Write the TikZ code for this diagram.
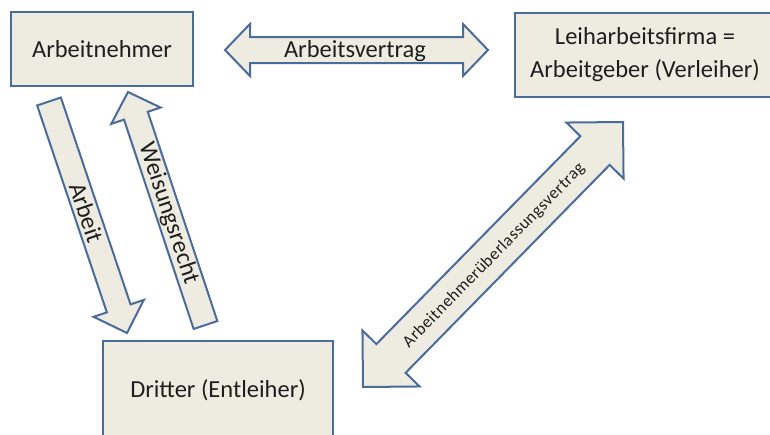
\documentclass[tikz,border=0pt]{standalone}
\usepackage{fontspec}
\setmainfont{Carlito}
\usetikzlibrary{calc}
\definecolor{boxfill}{HTML}{EEECE1}
\definecolor{boxline}{HTML}{4A6C9B}
\definecolor{txt}{HTML}{1E1E1E}
\tikzset{
  box/.style={draw=boxline, fill=boxfill, line width=2pt, inner sep=0pt, text=txt,
    font=\fontsize{24.5}{33}\selectfont, align=center},
  arrowshape/.style={draw=boxline, fill=boxfill, line width=2pt},
  arrowlabel/.style={text=txt, inner sep=0pt, font=\fontsize{24.5}{30}\selectfont},
  smalllabel/.style={text=txt, inner sep=0pt, font=\fontsize{17}{20}\selectfont\addfontfeature{LetterSpace=3}}
}
% single block arrow: name, tail, tip, shaft half width, head length, head half width
\newcommand{\blockarrow}[6]{%
  \coordinate (#1-h) at ($(#3)!#5!(#2)$);
  \draw[arrowshape] ($(#2)!#4!90:(#3)$) -- ($(#1-h)!#4!90:(#3)$) -- ($(#1-h)!#6!90:(#3)$)
    -- (#3) -- ($(#1-h)!#6!-90:(#3)$) -- ($(#1-h)!#4!-90:(#3)$) -- ($(#2)!#4!-90:(#3)$) -- cycle;}
% double block arrow: name, tip a, tip b, shaft half width, head length, head half width
\newcommand{\dblockarrow}[6]{%
  \coordinate (#1-ha) at ($(#2)!#5!(#3)$);
  \coordinate (#1-hb) at ($(#3)!#5!(#2)$);
  \draw[arrowshape] (#2) -- ($(#1-ha)!#6!90:(#3)$) -- ($(#1-ha)!#4!90:(#3)$)
    -- ($(#1-hb)!#4!-90:(#2)$) -- ($(#1-hb)!#6!-90:(#2)$) -- (#3)
    -- ($(#1-hb)!#6!90:(#2)$) -- ($(#1-hb)!#4!90:(#2)$)
    -- ($(#1-ha)!#4!-90:(#3)$) -- ($(#1-ha)!#6!-90:(#3)$) -- cycle;}
\begin{document}
\begin{tikzpicture}[x=1pt, y=-1pt]
  \useasboundingbox (0,0) rectangle (770,434);
  \clip (0,0) rectangle (770,434);
  \fill[white] (0,0) rectangle (770,434);

  % boxes
  \node[box, minimum width=182pt, minimum height=74pt] (an) at (102,49) {Arbeitnehmer};
  \node[box, minimum width=260pt, minimum height=84pt] (lf) at (645,55)
    {Leiharbeitsfirma =\\Arbeitgeber (Verleiher)};
  \node[box, minimum width=230pt, minimum height=99pt] (dr) at (218,390.5) {Dritter (Entleiher)};

  % Arbeitsvertrag (double arrow)
  \coordinate (av-a) at (225,50);
  \coordinate (av-b) at (488,50);
  \dblockarrow{av}{av-a}{av-b}{13pt}{25pt}{26pt}
  \node[arrowlabel] (avl) at ($(av-a)!0.5!(av-b)+(-1.5,1)$) {Arbeitsvertrag};

  % Arbeit (down)
  \coordinate (ar-t) at (49,101.5);
  \coordinate (ar-p) at (127,333);
  \blockarrow{ar}{ar-t}{ar-p}{12.5pt}{26pt}{26.5pt}
  \node[arrowlabel, rotate=-71.4] (arl) at ($(ar-t)!0.48!(ar-p)$) {Arbeit};

  % Weisungsrecht (up)
  \coordinate (wr-t) at (205.5,325);
  \coordinate (wr-p) at (128,92);
  \blockarrow{wr}{wr-t}{wr-p}{12.5pt}{25pt}{26pt}
  \node[arrowlabel, rotate=-71.6] (wrl) at ($(wr-t)!0.48!(wr-p)$) {Weisungsrecht};

  % Arbeitnehmerueberlassungsvertrag (diagonal double arrow)
  \coordinate (ue-a) at (363,387);
  \coordinate (ue-b) at (623,122);
  \dblockarrow{ue}{ue-a}{ue-b}{20.5pt}{40pt}{40pt}
  \node[smalllabel, rotate=45.5] (uel) at ($(ue-a)!0.5!(ue-b)+(1,1)$) {Arbeitnehmerüberlassungsvertrag};
\end{tikzpicture}
\end{document}
